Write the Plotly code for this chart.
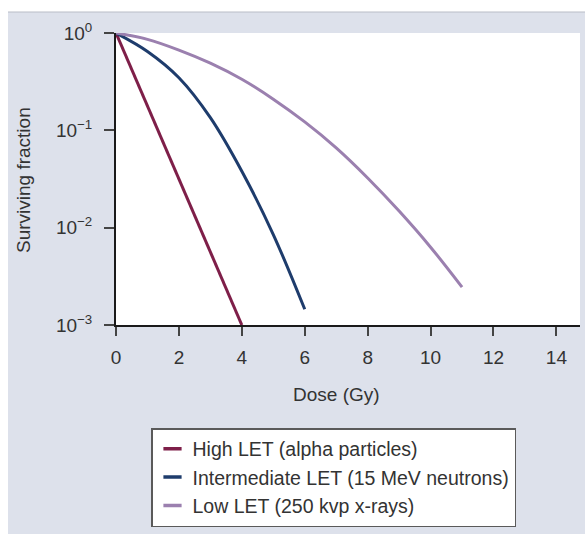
import plotly.graph_objects as go

# Cell survival curves: dose (Gy) vs surviving fraction
high_dose = [0, 4]
high_surv = [1.0, 0.001]

inter_dose = [0, 1, 2, 3, 4, 5, 6]
inter_surv = [1.0, 0.646, 0.347, 0.135, 0.038, 0.0085, 0.00145]

low_dose = [0, 1, 2, 3, 4, 5, 6, 7, 8, 9, 10, 11]
low_surv = [1.0, 0.861, 0.668, 0.490, 0.335, 0.209, 0.122, 0.066, 0.0324,
            0.0148, 0.0063, 0.00245]

series_names = [
    "High LET (alpha particles)",
    "Intermediate LET (15 MeV neutrons)",
    "Low LET (250 kvp x-rays)",
]
series_colors = ["#7e1f49", "#1e3c6c", "#9b80af"]

x_ticks = [0, 2, 4, 6, 8, 10, 12, 14]
y_tickvals = [1, 0.1, 0.01, 0.001]
y_ticktext = ["10<sup>0</sup>", "10<sup>\u22121</sup>",
              "10<sup>\u22122</sup>", "10<sup>\u22123</sup>"]

FONT = "Liberation Sans, Arial, Helvetica, sans-serif"
BG = "#dde1eb"
W, H = 585, 534
ML, MR, MT, MB = 116, 5, 33, 209
PW, PH = W - ML - MR, H - MT - MB


def px_x(p):
    return (p - ML) / PW


def px_y(q):
    return (H - MB - q) / PH


fig = go.Figure()

datasets = [(high_dose, high_surv), (inter_dose, inter_surv), (low_dose, low_surv)]
for (xd, yd), name, col in zip(datasets, series_names, series_colors):
    fig.add_trace(go.Scatter(
        x=xd, y=yd, mode="lines", name=name,
        line=dict(color=col, width=3, shape="spline", smoothing=1.0),
        showlegend=False, hoverinfo="skip",
    ))

# short dash symbols for the legend
for name, col in zip(series_names, series_colors):
    fig.add_trace(go.Scatter(
        x=[None], y=[None], mode="markers", name=name,
        marker=dict(symbol="line-ew", size=13, color=col,
                    line=dict(color=col, width=3.5)),
        showlegend=True,
    ))

fig.update_xaxes(
    range=[0, 14.75], tickvals=x_ticks, ticks="outside", ticklen=9,
    tickwidth=1.5, tickcolor="#444", showline=True, linecolor="#1a1a1a",
    linewidth=2, showgrid=False, zeroline=False,
    tickfont=dict(family=FONT, size=19, color="#333"), ticklabelstandoff=5,
)
fig.update_yaxes(
    type="log", range=[-3, 0], tickvals=y_tickvals, ticktext=y_ticktext,
    ticks="outside", ticklen=10, tickwidth=1.5, tickcolor="#444",
    showline=True, linecolor="#1a1a1a", linewidth=2, showgrid=False,
    zeroline=False, tickfont=dict(family=FONT, size=19, color="#333"),
    ticklabelstandoff=8,
)

fig.update_layout(
    width=W, height=H,
    margin=dict(l=ML, r=MR, t=MT, b=MB, pad=0),
    paper_bgcolor=BG, plot_bgcolor="white",
    font=dict(family=FONT, color="#333"),
    legend=dict(
        x=px_x(151), y=px_y(428), xanchor="left", yanchor="top",
        bgcolor="white", bordercolor="#5a5a5a", borderwidth=1.5,
        font=dict(family=FONT, size=19.5, color="#333"),
    ),
    shapes=[
        dict(type="rect", xref="paper", yref="paper", x0=px_x(0), x1=px_x(W),
             y0=px_y(12), y1=px_y(0), fillcolor="white", line_width=0,
             layer="below"),
        dict(type="rect", xref="paper", yref="paper", x0=px_x(0), x1=px_x(8),
             y0=px_y(H), y1=px_y(0), fillcolor="white", line_width=0,
             layer="below"),
        dict(type="line", xref="paper", yref="paper", x0=px_x(8), x1=px_x(W),
             y0=px_y(12), y1=px_y(12), line=dict(color="#b9bdc7", width=1)),
    ],
    annotations=[
        dict(text="Dose (Gy)", xref="paper", yref="paper", x=px_x(336),
             y=px_y(394), xanchor="center", yanchor="middle", showarrow=False,
             font=dict(family=FONT, size=19, color="#333")),
        dict(text="Surviving fraction", xref="paper", yref="paper",
             x=px_x(23), y=px_y(180), xanchor="center", yanchor="middle",
             textangle=-90, showarrow=False,
             font=dict(family=FONT, size=19, color="#333")),
    ],
)

fig.write_html("out.html")
